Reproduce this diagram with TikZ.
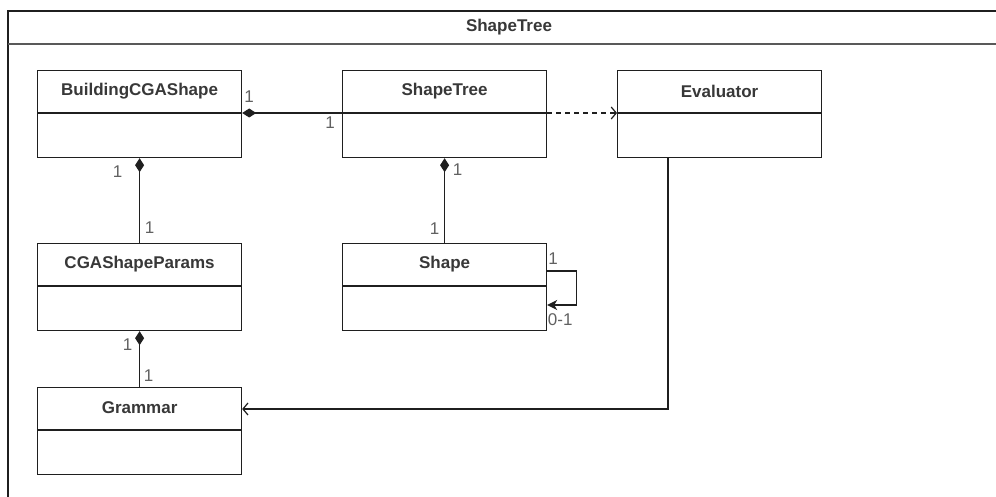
\documentclass[tikz,border=0pt]{standalone}
\usepackage{fontspec}
\setmainfont{Liberation Sans}
\usetikzlibrary{arrows.meta,calc}
\begin{document}
\begin{tikzpicture}[x=1pt,y=-1pt,
  line width=1.2pt,
  cls/.style={draw=black!88, fill=white, minimum width=204pt, minimum height=87pt,
              anchor=north west, inner sep=0pt},
  clsname/.style={font=\fontsize{17}{20}\selectfont\bfseries, text=black!78, inner sep=0pt},
  mult/.style={font=\fontsize{17}{20}\selectfont, text=black!62, inner sep=0pt},
  comp/.style={draw=black!88, {Diamond[length=14pt,width=9pt]}-},
  dep/.style={draw=black!88, dash pattern=on 5pt off 4pt, -{Straight Barb[length=5pt,width=12pt]}},
  assoc/.style={draw=black!88, -{Straight Barb[length=5pt,width=12pt]}},
  selfref/.style={draw=black!88, -{Stealth[length=10pt,width=10pt,inset=3pt]}},
  frameline/.style={draw=black!88, line width=1.5pt},
  headline/.style={draw=black!65, line width=2.2pt}
]
\clip (0,0) rectangle (996,497);

% package frame
\draw[frameline] (8,520) -- (8,11) -- (1010,11) -- (1010,520);
\draw[headline] (8,44) -- (1010,44);
\node[clsname] (pkg) at (509,27) {ShapeTree};

% classes
\newcommand{\umlclass}[4]{%
  \node[cls] (#1) at (#2,#3) {};
  \node[clsname] (#1-name) at ($(#1.north)+(0,21)$) {#4};
  \draw[draw=black!88] ($(#1.north west)+(0,43)$) coordinate (#1-dl) -- ($(#1.north east)+(0,43)$) coordinate (#1-dr);
}
\umlclass{bcs}{37}{70}{BuildingCGAShape}
\umlclass{tree}{342}{70}{ShapeTree}
\umlclass{eval}{617}{70}{Evaluator}
\umlclass{params}{37}{243}{CGAShapeParams}
\umlclass{shape}{342}{243}{Shape}
\umlclass{gram}{37}{387}{Grammar}

% BuildingCGAShape <>-- ShapeTree
\draw[comp] (bcs-dr) -- (tree-dl);
\node[mult] at ($(bcs-dr)+(7,-16)$) {1};
\node[mult] at ($(tree-dl)+(-12,10)$) {1};

% ShapeTree ..> Evaluator
\draw[dep] (tree-dr) -- (eval-dl);

% BuildingCGAShape <>-- CGAShapeParams
\draw[comp] (bcs.south) -- (params.north);
\node[mult] at ($(bcs.south)+(-22,13)$) {1};
\node[mult] at ($(params.north)+(10,-15)$) {1};

% ShapeTree <>-- Shape
\draw[comp] (tree.south) -- (shape.north);
\node[mult] at ($(tree.south)+(13,11)$) {1};
\node[mult] at ($(shape.north)+(-10,-14)$) {1};

% Shape self reference
\coordinate (sout) at ($(shape.north east)+(0,28)$);
\coordinate (sin) at ($(shape.north east)+(0,62)$);
\draw[selfref] (sout) -- ++(29,0) |- (sin);
\node[mult] at ($(sout)+(6,-12)$) {1};
\node[mult] at ($(sin)+(13,15)$) {0-1};

% CGAShapeParams <>-- Grammar
\draw[comp] (params.south) -- (gram.north);
\node[mult] at ($(params.south)+(-12,13)$) {1};
\node[mult] at ($(gram.north)+(9,-11)$) {1};

% Evaluator --> Grammar
\coordinate (gin) at ($(gram.north east)+(0,22)$);
\draw[assoc] ($(eval.south west)+(51,0)$) |- (gin);
\end{tikzpicture}
\end{document}
